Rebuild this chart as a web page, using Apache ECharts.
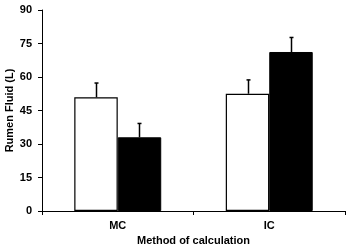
<!DOCTYPE html>
<html><head><meta charset="utf-8">
<script src="https://cdn.jsdelivr.net/npm/echarts@6/dist/echarts.min.js"></script>
<style>html,body{margin:0;padding:0;background:#fff}#c{width:349px;height:249px}</style>
</head><body><div id="c"></div>
<script>
const categories = ['MC', 'IC'];
const whiteValues = [50.9, 52.5];
const whiteErrors = [6.4, 6.2];
const blackValues = [33.0, 71.2];
const blackErrors = [6.2, 6.5];
const yTicks = [0, 15, 30, 45, 60, 75, 90];

const chart = echarts.init(document.getElementById('c'));
const font = 'Liberation Sans, Arial, sans-serif';

function errSeries(values, errors, offsetSign) {
  return {
    type: 'custom',
    z: 5,
    data: values.map((v, i) => [i, v, v + errors[i]]),
    renderItem: function (params, api) {
      const idx = api.value(0);
      const base = api.coord([idx, api.value(1)]);
      const top = api.coord([idx, api.value(2)]);
      const bw = api.size([1, 0])[0];
      const barW = bw * (1 - 0.426) / 2;
      const x = Math.round(base[0] + offsetSign * barW / 2) + 0.5;
      return {
        type: 'group',
        children: [
          {type: 'line', shape: {x1: x, y1: base[1], x2: x, y2: top[1]}, style: {stroke: '#000', lineWidth: 1.5}},
          {type: 'line', shape: {x1: x - 2, y1: top[1], x2: x + 2, y2: top[1]}, style: {stroke: '#000', lineWidth: 1.5}}
        ]
      };
    }
  };
}

chart.setOption({
  animation: false,
  grid: {left: 42, right: 4, top: 10, bottom: 38, containLabel: false, outerBoundsMode: 'none'},
  xAxis: {
    type: 'category',
    data: categories,
    name: 'Method of calculation',
    nameLocation: 'middle',
    nameGap: 24,
    nameMoveOverlap: false,
    nameTextStyle: {fontFamily: font, fontWeight: 'bold', fontSize: 11, color: '#000'},
    axisLine: {lineStyle: {color: '#000', width: 1}},
    axisTick: {show: true, length: 4, lineStyle: {color: '#000'}},
    axisLabel: {fontFamily: font, fontWeight: 'bold', fontSize: 11, color: '#000', margin: 9}
  },
  yAxis: {
    type: 'value',
    min: 0, max: 90, interval: 15,
    name: 'Rumen Fluid (L)',
    nameLocation: 'middle',
    nameGap: 27,
    nameMoveOverlap: false,
    nameTextStyle: {fontFamily: font, fontWeight: 'bold', fontSize: 11, color: '#000'},
    axisLine: {show: true, lineStyle: {color: '#000', width: 1}},
    axisTick: {show: true, length: 4, lineStyle: {color: '#000'}},
    splitLine: {show: false},
    axisLabel: {fontFamily: font, fontWeight: 'bold', fontSize: 11, color: '#000', margin: 10,
      formatter: v => yTicks.includes(v) ? String(v) : ''}
  },
  series: [
    {type: 'bar', data: whiteValues, barGap: '0%', barCategoryGap: '42.6%',
     itemStyle: {color: '#fff', borderColor: '#000', borderWidth: 1.2}},
    {type: 'bar', data: blackValues, barGap: '0%', barCategoryGap: '42.6%',
     itemStyle: {color: '#000', borderColor: '#000', borderWidth: 1}},
    errSeries(whiteValues, whiteErrors, -1),
    errSeries(blackValues, blackErrors, 1)
  ]
});
</script></body></html>
